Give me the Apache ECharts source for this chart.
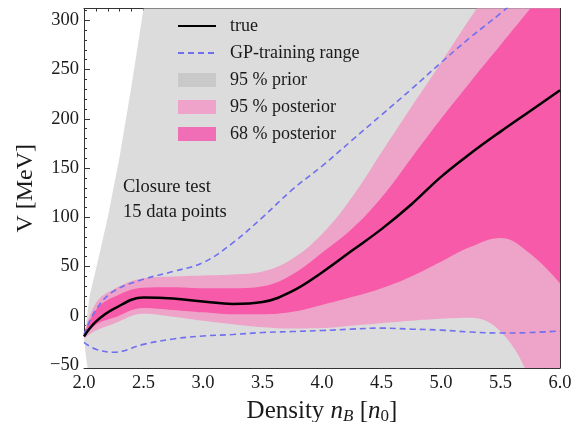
<!DOCTYPE html>
<html>
<head>
<meta charset="utf-8">
<script src="https://cdn.jsdelivr.net/npm/echarts@6/dist/echarts.min.js"></script>
<style>html,body{margin:0;padding:0;background:#fff}#c{width:574px;height:422px}</style>
</head>
<body>
<div id="c"></div>
<script>
// ---- data ----
const xPrior = [2.0, 2.02, 2.05, 2.1, 2.2, 2.3, 2.4, 2.5, 2.75, 3.0, 4.0, 5.0, 6.0];
const priorUpper = [-23, -5, 22, 47, 100, 162, 234, 312, 500, 700, 1500, 2300, 3100];
const priorLower = [-23, -45, -68, -95, -130, -160, -185, -210, -270, -330, -550, -750, -950];

const xBand = [2.0, 2.1, 2.25, 2.5, 2.75, 3.0, 3.25, 3.5, 3.75, 4.0, 4.25, 4.5, 4.75, 5.0, 5.25, 5.5, 5.75, 6.0];
const post95Upper = [-19, 13, 27, 38, 40, 41, 42, 45, 58, 83, 120, 166, 212, 257, 303, 347, 390, 435];
const post95Lower = [-23, -15, -8, 2, -1, -5, -8.5, -11.5, -13, -12.5, -10, -7.5, -5, -3, -2, -16, -65, -150];
const post68Upper = [-20, 6, 19, 28.5, 29, 28, 28, 30, 42, 64, 88, 120, 160, 200, 238, 275, 312, 350];
const post68Lower = [-22, -9, -2, 8, 6, 3.5, 1.5, 1.5, 4, 11, 19, 28, 40, 55, 70, 79, 63, 33];
const trueV = [-21, -6, 7, 18.5, 17.5, 14.5, 12, 14, 25, 44, 66, 88, 113, 141, 165, 187, 208, 229];
const gpUpper = [-19, 6, 25, 37, 45, 54, 74, 100, 128, 152, 178, 204, 230, 257, 283, 307, 333, 360];
const gpLower = [-27, -34, -37, -29, -23.5, -20.5, -19, -17, -16, -15, -13.5, -12.5, -13.5, -14.5, -16.5, -17.5, -17, -15.5];

const yMajor = [-50, 0, 50, 100, 150, 200, 250, 300];
const yMinor = [];
for (let v = -50; v <= 310; v += 10) if (v % 50 !== 0) yMinor.push(v);

const legendNames = ['true', 'GP-training range', '95 % prior', '95 % posterior', '68 % posterior'];

// ---- chart ----
const FONT = '"Liberation Serif", "DejaVu Serif", serif';
const AX = '#333';
const TXT = '#1a1a1a';
const cPrior = '#dcdcdc', c95 = '#eea4c9', c68 = '#f65aa9';

function pairs(xs, ys) { return xs.map((x, i) => [x, ys[i]]); }
// an edge of a band, filled down to the bottom of the plot; later edges paint over earlier ones
function edge(name, xs, ys, fill, smooth) {
  return { type: 'line', name: name, data: pairs(xs, ys), symbol: 'none', smooth: smooth, silent: true,
    lineStyle: { width: 0, opacity: 0 }, itemStyle: { color: fill },
    areaStyle: { color: fill, opacity: 1, origin: 'start' } };
}

const yBase = { type: 'value', min: -53, max: 312, splitLine: { show: false },
  axisLine: { show: true, onZero: false, lineStyle: { color: AX, width: 1 } } };
const xBase = { type: 'value', min: 2.0, max: 6.0, interval: 0.5, splitLine: { show: false },
  axisLine: { show: true, onZero: false, lineStyle: { color: AX, width: 1 } } };

const chart = echarts.init(document.getElementById('c'), null, { renderer: 'canvas' });
chart.setOption({
  animation: false,
  backgroundColor: '#fff',
  grid: { left: 84, right: 14, top: 8.5, bottom: 54, containLabel: false, outerBoundsMode: 'none' },
  xAxis: [
    Object.assign({}, xBase, { position: 'bottom',
      axisTick: { inside: true, length: 6, lineStyle: { color: AX } },
      minorTick: { show: true, splitNumber: 5, length: 3, lineStyle: { color: AX } },
      axisLabel: { color: TXT, fontFamily: FONT, fontSize: 18.5, margin: 6, formatter: v => v.toFixed(1) },
      name: '{t|Density }{i|n}{s|B}{t| [}{i|n}{s2|0}{t|]}', nameLocation: 'middle', nameGap: 25,
      nameTextStyle: { rich: {
        t: { fontFamily: FONT, fontSize: 25, color: TXT, lineHeight: 30 },
        i: { fontFamily: FONT, fontSize: 25, fontStyle: 'italic', color: TXT, lineHeight: 30 },
        s: { fontFamily: FONT, fontSize: 17, fontStyle: 'italic', color: TXT, lineHeight: 30, padding: [10, 0, 0, 0] },
        s2: { fontFamily: FONT, fontSize: 17, color: TXT, lineHeight: 30, padding: [10, 0, 0, 0] }
      } } }),
    Object.assign({}, xBase, { position: 'top',
      axisTick: { inside: true, length: 6, lineStyle: { color: AX } },
      minorTick: { show: true, splitNumber: 5, length: 3, lineStyle: { color: AX } },
      axisLabel: { show: false } })
  ],
  yAxis: [
    Object.assign({}, yBase, { position: 'left',
      axisTick: { inside: true, length: 6, customValues: yMajor, lineStyle: { color: AX } },
      axisLabel: { color: TXT, fontFamily: FONT, fontSize: 18.5, margin: 5, customValues: yMajor,
        formatter: v => v < 0 ? '\u2212' + Math.abs(v) : String(v) },
      name: 'V [MeV]', nameLocation: 'middle', nameGap: 46,
      nameTextStyle: { fontFamily: FONT, fontSize: 24, color: TXT } }),
    Object.assign({}, yBase, { position: 'left', axisLine: { show: false },
      axisTick: { inside: true, length: 3, customValues: yMinor, lineStyle: { color: AX } },
      axisLabel: { show: false } }),
    Object.assign({}, yBase, { position: 'right',
      axisTick: { inside: true, length: 6, customValues: yMajor, lineStyle: { color: AX } },
      axisLabel: { show: false } }),
    Object.assign({}, yBase, { position: 'right', axisLine: { show: false },
      axisTick: { inside: true, length: 3, customValues: yMinor, lineStyle: { color: AX } },
      axisLabel: { show: false } })
  ],
  legend: {
    orient: 'vertical', left: 177, top: 17, padding: 0, itemWidth: 38, itemHeight: 14, itemGap: 9,
    textStyle: { fontFamily: FONT, fontSize: 18, color: TXT, padding: [0, 0, 0, 9] },
    data: [
      { name: legendNames[0], itemStyle: { opacity: 0 } },
      { name: legendNames[1], itemStyle: { opacity: 0 } },
      { name: legendNames[2], icon: 'rect', itemStyle: { color: '#c9c9c9' } },
      { name: legendNames[3], icon: 'rect', itemStyle: { color: '#efa3ca' } },
      { name: legendNames[4], icon: 'rect', itemStyle: { color: '#f06eb6' } }
    ]
  },
  graphic: [
    { type: 'text', left: 123, top: 175, z: 100,
      style: { text: 'Closure test\n15 data points', font: '18.5px ' + FONT, lineHeight: 25, fill: TXT } }
  ],
  series: [
    edge(legendNames[2], xPrior, priorUpper, cPrior, false),
    edge(legendNames[3], xBand, post95Upper, c95, 0.4),
    edge(legendNames[4], xBand, post68Upper, c68, 0.4),
    edge('68 lower', xBand, post68Lower, c95, 0.4),
    edge('95 lower', xBand, post95Lower, cPrior, 0.4),
    edge('prior lower', xPrior, priorLower, '#ffffff', false),
    { type: 'line', name: legendNames[1], data: pairs(xBand, gpUpper), symbol: 'none', smooth: 0.4,
      lineStyle: { color: '#6f6ff0', width: 1.6, type: [6, 4] }, itemStyle: { color: '#6f6ff0' }, z: 5 },
    { type: 'line', name: legendNames[1], data: pairs(xBand, gpLower), symbol: 'none', smooth: 0.4,
      lineStyle: { color: '#6f6ff0', width: 1.6, type: [6, 4] }, itemStyle: { color: '#6f6ff0' }, z: 5 },
    { type: 'line', name: legendNames[0], data: pairs(xBand, trueV), symbol: 'none', smooth: 0.4,
      lineStyle: { color: '#000', width: 2.5 }, itemStyle: { color: '#000' }, z: 6 }
  ]
});
</script>
</body>
</html>
